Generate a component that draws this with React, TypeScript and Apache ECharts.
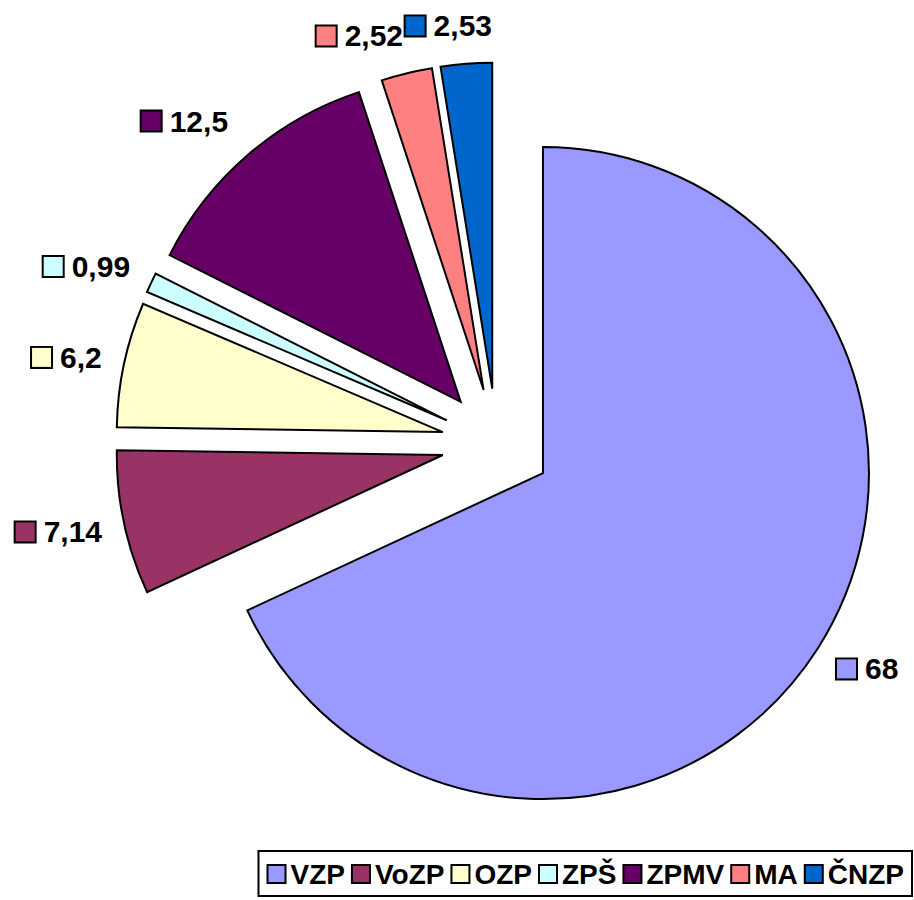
import React, { useEffect, useRef } from "react";
import * as echarts from "echarts";

const categories = ["VZP", "VoZP", "OZP", "ZPŠ", "ZPMV", "MA", "ČNZP"];
const values = [68, 7.14, 6.2, 0.99, 12.5, 2.52, 2.53];
const colors = ["#9999FF", "#993366", "#FFFFCC", "#CCFFFF", "#660066", "#FF8080", "#0066CC"];

// label placement tuning (styles, not data)
const labelLineLength = [38, 43, 33, 38.5, 44.5, 38.4, 37.9];
const labelDistance = [-12.8, -20.1, -10.1, -13.8, -9.1, -5.5, -28.7];

const FONT = '"Liberation Sans", Arial, sans-serif';

export default function App() {
  const ref = useRef<HTMLDivElement>(null);
  useEffect(() => {
    if (!ref.current) return;
    const chart = echarts.init(ref.current, null, { renderer: "svg" });
    const rich: Record<string, any> = {
      v: { fontFamily: FONT, fontWeight: "bold", fontSize: 30, color: "#000", padding: [0, 0, 0, 9] },
    };
    colors.forEach((c, i) => {
      rich["b" + i] = { width: 19, height: 19, backgroundColor: c, borderColor: "#000", borderWidth: 2 };
    });
    const data = categories.map((name, i) => ({
      name,
      value: values[i],
      selected: true,
      itemStyle: { color: colors[i] },
      labelLine: { show: false, length: labelLineLength[i], length2: 0 },
      label: { distanceToLabelLine: labelDistance[i] },
    }));
    chart.setOption({
      animation: false,
      backgroundColor: "#fff",
      legend: {
        data: categories,
        orient: "horizontal",
        right: 2,
        top: 851,
        padding: [9, 8, 8, 8],
        borderColor: "#000",
        borderWidth: 2,
        itemGap: 6,
        itemWidth: 18,
        itemHeight: 18,
        icon: "rect",
        itemStyle: { borderColor: "#000", borderWidth: 2 },
        textStyle: { fontFamily: FONT, fontWeight: "bold", fontSize: 28, color: "#000" },
        selectedMode: false,
      },
      series: [
        {
          type: "pie",
          center: [496.6, 443.5],
          radius: 326,
          startAngle: 90,
          clockwise: true,
          selectedMode: "multiple",
          selectedOffset: 55,
          avoidLabelOverlap: false,
          labelLayout: { hideOverlap: false },
          emphasis: { disabled: true },
          itemStyle: { borderColor: "#000", borderWidth: 2, borderJoin: "miter" },
          select: { itemStyle: { borderColor: "#000", borderWidth: 2 } },
          label: {
            show: true,
            position: "outside",
            formatter: (p: any) => `{b${p.dataIndex}|}{v|${String(p.value).replace(".", ",")}}`,
            rich,
          },
          data,
        },
      ],
    });
    return () => chart.dispose();
  }, []);
  return <div ref={ref} style={{ position: "absolute", left: 0, top: 0, width: 914, height: 900 }} />;
}
